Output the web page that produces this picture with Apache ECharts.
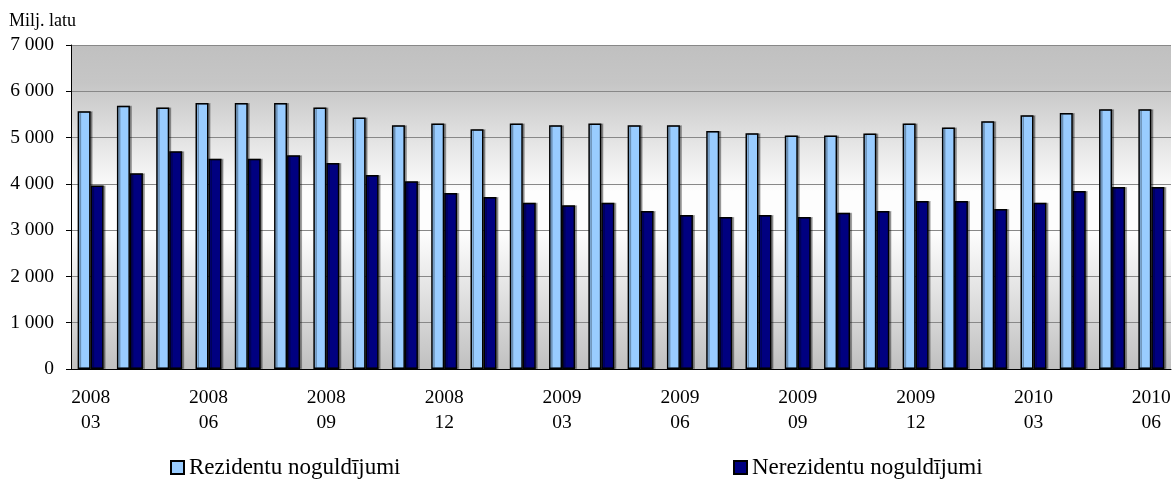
<!DOCTYPE html>
<html>
<head>
<meta charset="utf-8">
<script src="https://cdn.jsdelivr.net/npm/echarts@6/dist/echarts.min.js"></script>
<style>
  html, body { margin: 0; padding: 0; background: #fff; }
  #chart { width: 1174px; height: 481px; }
</style>
</head>
<body>
<div id="chart"></div>
<script>
// months 2008-03 .. 2010-06
var months = [
  '2008\n03', '2008\n04', '2008\n05', '2008\n06', '2008\n07', '2008\n08', '2008\n09',
  '2008\n10', '2008\n11', '2008\n12', '2009\n01', '2009\n02', '2009\n03', '2009\n04',
  '2009\n05', '2009\n06', '2009\n07', '2009\n08', '2009\n09', '2009\n10', '2009\n11',
  '2009\n12', '2010\n01', '2010\n02', '2010\n03', '2010\n04', '2010\n05', '2010\n06'
];
var rezidenti = [
  5570, 5690, 5650, 5745, 5745, 5745, 5650, 5435, 5265, 5305,
  5180, 5305, 5265, 5305, 5265, 5265, 5140, 5095, 5045, 5045,
  5090, 5305, 5220, 5355, 5480, 5530, 5610, 5610
];
var nerezidenti = [
  3965, 4230, 4705, 4540, 4540, 4620, 4450, 4190, 4055, 3805,
  3715, 3590, 3540, 3590, 3415, 3325, 3285, 3325, 3285, 3375,
  3415, 3630, 3630, 3455, 3590, 3845, 3930, 3930
];
var seriesNames = ['Rezidentu noguldījumi', 'Nerezidentu noguldījumi'];

var font = 'Liberation Serif';
var chart = echarts.init(document.getElementById('chart'));

var legendText = { fontFamily: font, fontSize: 23, color: '#000' };

var option = {
  animation: false,
  textStyle: { fontFamily: font },
  title: {
    text: 'Milj. latu',
    left: 9,
    top: 12,
    padding: 0,
    textStyle: { fontFamily: font, fontSize: 18, fontWeight: 'normal', color: '#000' }
  },
  legend: [
    {
      data: [seriesNames[0]],
      left: 170,
      top: 456,
      padding: 0,
      icon: 'rect',
      itemWidth: 13,
      itemHeight: 13,
      textStyle: legendText
    },
    {
      data: [seriesNames[1]],
      left: 733,
      top: 456,
      padding: 0,
      icon: 'rect',
      itemWidth: 13,
      itemHeight: 13,
      textStyle: legendText
    }
  ],
  grid: { left: 71, right: 3, top: 45, bottom: 112 },
  xAxis: {
    type: 'category',
    data: months,
    axisLine: { lineStyle: { color: '#000', width: 1 } },
    axisTick: { interval: 0, length: 5, lineStyle: { color: '#000' } },
    axisLabel: {
      interval: 2,
      color: '#000',
      fontFamily: font,
      fontSize: 19.5,
      lineHeight: 25,
      margin: 16
    }
  },
  yAxis: {
    type: 'value',
    min: 0,
    max: 7000,
    interval: 1000,
    axisLine: { show: true, lineStyle: { color: '#000' } },
    axisTick: { show: true, length: 5, lineStyle: { color: '#000' } },
    axisLabel: {
      color: '#000',
      fontFamily: font,
      fontSize: 19.5,
      margin: 17,
      formatter: function (v) {
        return String(v).replace(/\B(?=(\d{3})+(?!\d))/g, ' ');
      }
    },
    splitLine: { show: true, lineStyle: { color: '#888', width: 1 } }
  },
  series: [
    {
      name: seriesNames[0],
      type: 'bar',
      data: rezidenti,
      barWidth: 13,
      barGap: '0%',
      itemStyle: {
        color: '#99ccff',
        borderColor: '#000',
        borderWidth: 1.5,
        shadowColor: 'rgba(0,0,0,0.3)',
        shadowOffsetX: 2,
        shadowOffsetY: 0
      }
    },
    {
      name: seriesNames[1],
      type: 'bar',
      data: nerezidenti,
      barWidth: 13,
      barGap: '0%',
      itemStyle: {
        color: '#000080',
        borderColor: '#000',
        borderWidth: 1.5,
        shadowColor: 'rgba(0,0,0,0.3)',
        shadowOffsetX: 2,
        shadowOffsetY: 0
      }
    }
  ]
};

chart.setOption(option);

// plot area background gradient (gray - white - gray)
var rect = chart.getModel().getComponent('grid').coordinateSystem.getRect();
chart.setOption({
  graphic: [{
    type: 'rect',
    z: -10,
    silent: true,
    shape: { x: rect.x, y: rect.y, width: rect.width, height: rect.height },
    style: {
      fill: new echarts.graphic.LinearGradient(0, 0, 0, 1, [
        { offset: 0, color: '#c0c0c0' },
        { offset: 0.12, color: '#c6c6c6' },
        { offset: 0.45, color: '#fdfdfd' },
        { offset: 0.58, color: '#fdfdfd' },
        { offset: 1, color: '#c0c0c0' }
      ])
    }
  }]
});

window.onresize = function () {
  chart.resize();
};
</script>
</body>
</html>
